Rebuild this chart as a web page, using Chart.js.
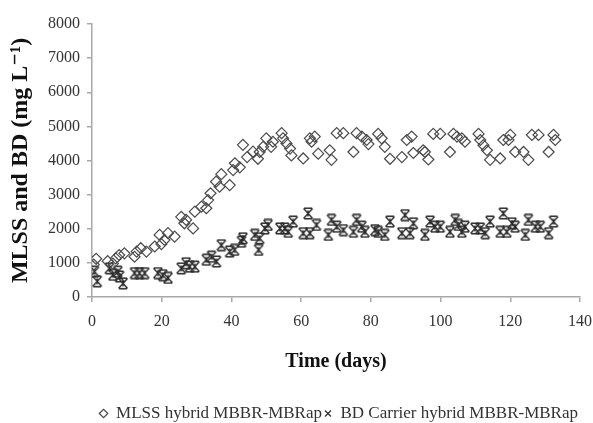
<!DOCTYPE html>
<html>
<head>
<meta charset="utf-8">
<script src="https://cdn.jsdelivr.net/npm/chart.js@4/dist/chart.umd.min.js"></script>
<style>
  html, body { margin: 0; padding: 0; background: #fff; }
  #wrap { width: 593px; height: 423px; }
</style>
</head>
<body>
<div id="wrap"><canvas id="mlssChart" width="593" height="423"></canvas></div>
<script>
// ===== DATA =====
const mlssDays = [
  0.5, 1.2, 4.5, 6, 6.8, 7.8, 9.3, 12.2, 12.8, 14, 15.6, 18, 19.4, 19.9, 20.8, 21.8, 23.7,
  25.6, 26.5, 27, 29, 29.5, 31.4, 32.8, 33.3, 34, 35.6, 36.6, 37.1, 39.5, 40.5, 41, 42.4,
  43.3, 44.5, 46.2, 47.6, 48.1, 49.1, 50, 51.4, 51.9, 54.4, 54.8, 55.8, 56.8, 57.2, 60.6,
  62.5, 63, 63.9, 64.9, 68.2, 68.7, 70.2, 72.1, 75, 75.9, 77.4, 78.8, 79.3, 82.1, 83.1,
  84, 85.5, 88.9, 90.3, 91.7, 92.2, 95, 95.5, 96.5, 97.9, 99.9, 102.7, 103.7, 104.7, 106.1,
  107, 110.9, 111.4, 112.3, 113.3, 114.2, 117.1, 118, 119.5, 120, 121.4, 123.8, 125.2,
  126.2, 128.1, 131, 132.4, 132.9
];
const mlssValues = [
  950, 1120, 1050, 980, 1130, 1230, 1280, 1180, 1330, 1430, 1330, 1480, 1820, 1550, 1670, 1870, 1770,
  2350, 2160, 2260, 2010, 2500, 2650, 2600, 2840, 3040, 3380, 3230, 3600, 3280, 3720, 3920, 3800,
  4460, 4100, 4260, 4050, 4250, 4400, 4650, 4400, 4550, 4800, 4650, 4500, 4350, 4150, 4060,
  4650, 4550, 4700, 4200, 4300, 4020, 4800, 4800, 4250, 4800, 4700, 4600, 4480, 4780, 4650,
  4400, 4050, 4100, 4600, 4700, 4220, 4300, 4250, 4030, 4780, 4780, 4250, 4780, 4700, 4650,
  4550, 4780, 4600, 4450, 4300, 4020, 4060, 4600, 4600, 4750, 4250, 4250, 4020,
  4750, 4750, 4250, 4750, 4600
];

const bdDays = [
  0.7, 1.5, 5, 6, 7.4, 7.9, 8.9, 12.2, 13.6, 15.1, 18.9, 20.3, 21.8, 25.6, 27, 28, 29.5,
  32.8, 34.3, 35.7, 37.1, 39.5, 40.9, 42.9, 43.3, 46.7, 47.8, 48.1, 49.6, 50.5, 53.9, 55.3,
  56.3, 57.7, 60.6, 62, 62.5, 64.4, 67.8, 68.7, 70.2, 72.1, 75, 75.9, 77.4, 78.3, 81.2,
  82.1, 84, 85.5, 88.9, 89.8, 91.2, 92.2, 95.5, 97, 98.4, 99.9, 102.7, 104.2, 105.1, 106.1,
  107, 109.9, 111.4, 112.8, 114.2, 117.1, 118, 119, 120.5, 121.4, 124.3, 125.2, 127.2,
  128.6, 131, 132.4
];
const bdValues = [
  740, 460, 840, 650, 740, 600, 400, 700, 700, 700, 700, 640, 560, 840, 990, 890, 890,
  1090, 1180, 1040, 1520, 1330, 1380, 1620, 1720, 1820, 1380, 1720, 2010, 2110, 2010, 2010,
  1910, 2210, 1870, 2450, 1870, 2110, 1820, 2260, 2060, 1960, 1910, 2260, 2060, 1910, 1960,
  1910, 1820, 2210, 1870, 2400, 1870, 2160, 1820, 2210, 2060, 2060, 1910, 2260, 2110, 1910,
  2060, 2010, 2010, 1870, 2210, 1910, 2450, 1910, 2160, 2060, 1820, 2260, 2060,
  2060, 1870, 2210
];

const seriesLabels = ["MLSS hybrid MBBR-MBRap", "BD Carrier hybrid MBBR-MBRap"];
const xTicks = [0, 20, 40, 60, 80, 100, 120, 140];
const yTicks = [0, 1000, 2000, 3000, 4000, 5000, 6000, 7000, 8000];

const toPoints = (xs, ys) => xs.map((x, i) => ({ x: x, y: ys[i] }));

// ===== STAR MARKER (X with caps and centre stroke) =====
function makeStarMarker() {
  const c = document.createElement("canvas");
  c.width = 12;
  c.height = 13;
  const g = c.getContext("2d");
  g.strokeStyle = "#2b2b2b";
  g.lineWidth = 1.4;
  g.beginPath();
  g.moveTo(1.5, 1.5);  g.lineTo(10.5, 11.5);
  g.moveTo(10.5, 1.5); g.lineTo(1.5, 11.5);
  g.moveTo(2, 1.2);    g.lineTo(10, 1.2);
  g.moveTo(2, 11.8);   g.lineTo(10, 11.8);
  g.moveTo(6, 3.5);    g.lineTo(6, 9.5);
  g.stroke();
  return c;
}
const starMarker = makeStarMarker();

const serif = "'Liberation Serif', 'DejaVu Serif', serif";
const axisGrey = "#a8a8a8";

// legend sits tight under the axis title
const legendNudge = {
  id: "legendNudge",
  afterLayout(chart) {
    const lg = chart.legend;
    lg.top += 9;
    lg.bottom += 9;
  }
};

// ===== CHART =====
const ctx = document.getElementById("mlssChart").getContext("2d");

new Chart(ctx, {
  type: "scatter",
  data: {
    datasets: [
      {
        label: seriesLabels[0],
        data: toPoints(mlssDays, mlssValues),
        pointStyle: "rectRot",
        pointRadius: 5.5,
        pointBorderWidth: 1.2,
        borderColor: "#4a4a4a",
        backgroundColor: "rgba(0,0,0,0)"
      },
      {
        label: seriesLabels[1],
        data: toPoints(bdDays, bdValues),
        pointStyle: starMarker,
        pointRadius: 6,
        borderColor: "#2b2b2b",
        backgroundColor: "#2b2b2b"
      }
    ]
  },
  plugins: [legendNudge],
  options: {
    responsive: false,
    animation: false,
    layout: {
      padding: { top: 24, right: 13, bottom: 0, left: 0 }
    },
    plugins: {
      tooltip: { enabled: false },
      legend: {
        position: "bottom",
        align: "end",
        labels: {
          color: "#333",
          font: { size: 17, family: serif },
          usePointStyle: true,
          boxWidth: 8,
          boxHeight: 6,
          padding: 2,
          generateLabels: chart => {
            const items = Chart.defaults.plugins.legend.labels.generateLabels(chart);
            items.forEach((it, i) => {
              it.pointStyle = i === 0 ? "rectRot" : "crossRot";
              it.fillStyle = "rgba(0,0,0,0)";
              it.lineWidth = 1.2;
            });
            return items;
          }
        }
      }
    },
    scales: {
      x: {
        type: "linear",
        min: 0,
        max: 140,
        afterBuildTicks: s => { s.ticks = xTicks.map(v => ({ value: v })); },
        afterFit: s => {
          s.height = 97;
          s.paddingRight = 0;   // "140" may run into the right margin
        },
        border: { color: axisGrey, width: 1.5 },
        grid: { drawOnChartArea: false, drawTicks: true, tickLength: 5, color: axisGrey, lineWidth: 1.5 },
        ticks: {
          color: "#333",
          font: { size: 16, family: serif },
          padding: 10,
          maxRotation: 0,
          callback: v => String(v)
        },
        title: {
          display: true,
          text: "Time (days)",
          color: "#111",
          font: { size: 20, weight: "bold", family: serif },
          padding: { top: 0, bottom: 20 }
        }
      },
      y: {
        type: "linear",
        min: 0,
        max: 8000,
        afterBuildTicks: s => { s.ticks = yTicks.map(v => ({ value: v })); },
        afterFit: s => { s.width = 92; },
        border: { color: axisGrey, width: 1.5 },
        grid: { drawOnChartArea: false, drawTicks: true, tickLength: 5, color: axisGrey, lineWidth: 1.5 },
        ticks: {
          color: "#333",
          font: { size: 16, family: serif },
          padding: 7,
          callback: v => String(v)
        },
        title: {
          display: true,
          text: "MLSS and BD (mg L\u207B\u00B9)",
          color: "#111",
          font: { size: 24, weight: "bold", family: serif },
          padding: { top: 6, bottom: 0 }
        }
      }
    }
  }
});
</script>
</body>
</html>
